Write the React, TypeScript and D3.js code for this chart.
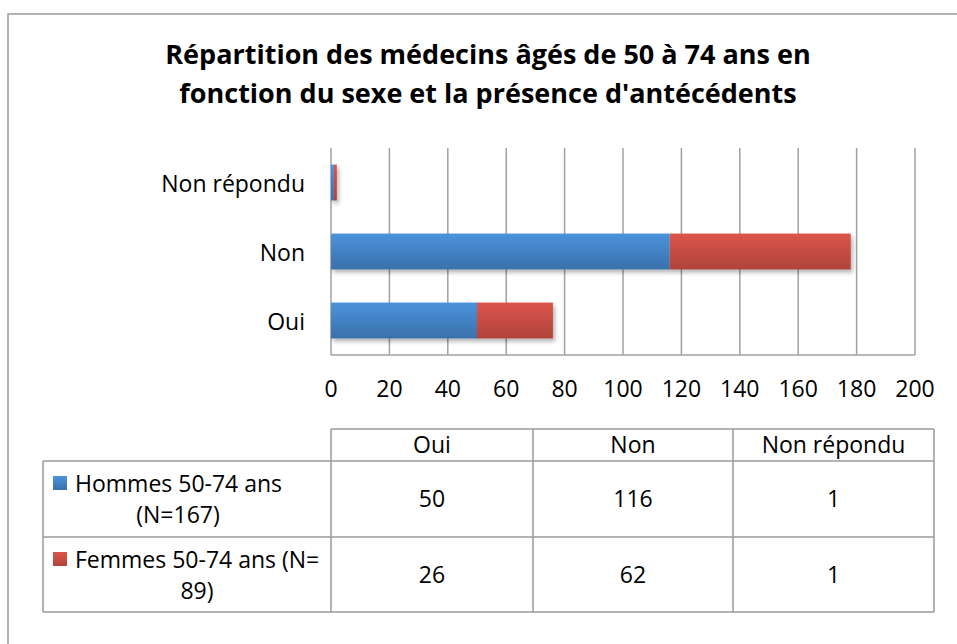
import { useEffect, useRef } from "react";
import * as d3 from "d3";

// chart data
const categories = ["Oui", "Non", "Non répondu"];
const hommes = [50, 116, 1];
const femmes = [26, 62, 1];
const xTicks = [0, 20, 40, 60, 80, 100, 120, 140, 160, 180, 200];
const titleLines = [
  "Répartition des médecins âgés de 50 à 74 ans en",
  "fonction du sexe et la présence d'antécédents",
];
const seriesNames = [
  ["Hommes 50-74 ans", "(N=167)"],
  ["Femmes 50-74 ans (N=", "89)"],
];

const FONT = "'Open Sans', 'Noto Sans', sans-serif";

export default function App() {
  const svgRef = useRef<SVGSVGElement | null>(null);

  useEffect(() => {
    if (!svgRef.current) return;
    const svg = d3.select(svgRef.current);
    svg.selectAll("*").remove();

    const W = 957;
    const H = 644;
    const plot = { left: 331, right: 915, top: 148, bottom: 355 };

    const defs = svg.append("defs");
    const grads = [
      { id: "gBlue", top: "#4b93dc", bottom: "#3a70ab" },
      { id: "gRed", top: "#dc554b", bottom: "#b0433b" },
    ];
    grads.forEach((g) => {
      const lg = defs
        .append("linearGradient")
        .attr("id", g.id)
        .attr("x1", 0)
        .attr("y1", 0)
        .attr("x2", 0)
        .attr("y2", 1);
      lg.append("stop").attr("offset", "0%").attr("stop-color", g.top);
      lg.append("stop").attr("offset", "100%").attr("stop-color", g.bottom);
    });
    const shadow = defs
      .append("filter")
      .attr("id", "shadow")
      .attr("x", "-10%")
      .attr("y", "-20%")
      .attr("width", "130%")
      .attr("height", "160%");
    shadow
      .append("feDropShadow")
      .attr("dx", 2)
      .attr("dy", 3)
      .attr("stdDeviation", 2)
      .attr("flood-color", "#000")
      .attr("flood-opacity", 0.3);

    svg.append("rect").attr("width", W).attr("height", H).attr("fill", "#fff");

    // outer frame
    svg
      .append("rect")
      .attr("x", 8)
      .attr("y", 14)
      .attr("width", W + 20)
      .attr("height", H + 20)
      .attr("fill", "none")
      .attr("stroke", "#9a9a9a")
      .attr("stroke-width", 1.5);

    // title
    svg
      .append("g")
      .selectAll("text")
      .data(titleLines)
      .enter()
      .append("text")
      .attr("x", 488)
      .attr("y", (_d, i) => 57 + i * 39)
      .attr("text-anchor", "middle")
      .attr("dominant-baseline", "middle")
      .attr("font-family", FONT)
      .attr("font-weight", "bold")
      .attr("font-size", 27)
      .attr("fill", "#000")
      .text((d) => d);

    const x = d3.scaleLinear().domain([0, 200]).range([plot.left, plot.right]);
    const y = d3
      .scaleBand<string>()
      .domain([...categories].reverse())
      .range([plot.top, plot.bottom])
      .paddingInner(0.48)
      .paddingOuter(0.24);

    // gridlines
    svg
      .append("g")
      .selectAll("line")
      .data(xTicks)
      .enter()
      .append("line")
      .attr("x1", (d) => x(d))
      .attr("x2", (d) => x(d))
      .attr("y1", plot.top)
      .attr("y2", plot.bottom)
      .attr("stroke", "#a0a0a0")
      .attr("stroke-width", 1.5);

    // axis line
    svg
      .append("line")
      .attr("x1", plot.left)
      .attr("x2", plot.right)
      .attr("y1", plot.bottom)
      .attr("y2", plot.bottom)
      .attr("stroke", "#a0a0a0")
      .attr("stroke-width", 1.5);

    // bars
    const stack = categories.map((c, i) => ({ c, h: hommes[i], f: femmes[i] }));
    const bars = svg.append("g").attr("filter", "url(#shadow)");
    bars
      .selectAll("rect.h")
      .data(stack)
      .enter()
      .append("rect")
      .attr("class", "h")
      .attr("x", x(0))
      .attr("y", (d) => y(d.c)!)
      .attr("width", (d) => x(d.h) - x(0))
      .attr("height", y.bandwidth())
      .attr("fill", "url(#gBlue)");
    bars
      .selectAll("rect.f")
      .data(stack)
      .enter()
      .append("rect")
      .attr("class", "f")
      .attr("x", (d) => x(d.h))
      .attr("y", (d) => y(d.c)!)
      .attr("width", (d) => x(d.h + d.f) - x(d.h))
      .attr("height", y.bandwidth())
      .attr("fill", "url(#gRed)");

    // category labels
    svg
      .append("g")
      .selectAll("text")
      .data(categories)
      .enter()
      .append("text")
      .attr("x", 305)
      .attr("y", (d) => y(d)! + y.bandwidth() / 2 + 3)
      .attr("text-anchor", "end")
      .attr("dominant-baseline", "middle")
      .attr("font-family", FONT)
      .attr("font-size", 23)
      .attr("fill", "#000")
      .text((d) => d);

    // tick labels
    svg
      .append("g")
      .selectAll("text")
      .data(xTicks)
      .enter()
      .append("text")
      .attr("x", (d) => x(d))
      .attr("y", 391)
      .attr("text-anchor", "middle")
      .attr("dominant-baseline", "middle")
      .attr("font-family", FONT)
      .attr("font-size", 23)
      .attr("fill", "#000")
      .text((d) => d);

    // data table
    const colX = [331, 533, 733, 934];
    const rowY = [429, 461, 537, 612];
    const tableLeft = 43;
    const tbl = svg.append("g").attr("stroke", "#9a9a9a").attr("stroke-width", 1.5);
    tbl.append("line").attr("x1", colX[0]).attr("x2", colX[3]).attr("y1", rowY[0]).attr("y2", rowY[0]);
    rowY.slice(1).forEach((ry) =>
      tbl.append("line").attr("x1", tableLeft).attr("x2", colX[3]).attr("y1", ry).attr("y2", ry)
    );
    colX.forEach((cx) =>
      tbl.append("line").attr("x1", cx).attr("x2", cx).attr("y1", rowY[0]).attr("y2", rowY[3])
    );
    tbl.append("line").attr("x1", tableLeft).attr("x2", tableLeft).attr("y1", rowY[1]).attr("y2", rowY[3]);

    const txt = svg
      .append("g")
      .attr("font-family", FONT)
      .attr("font-size", 23)
      .attr("fill", "#000")
      .attr("text-anchor", "middle")
      .attr("dominant-baseline", "middle");

    categories.forEach((c, i) => {
      const cx = (colX[i] + colX[i + 1]) / 2;
      txt.append("text").attr("x", cx).attr("y", (rowY[0] + rowY[1]) / 2 + 2).text(c);
      txt.append("text").attr("x", cx).attr("y", (rowY[1] + rowY[2]) / 2 + 2).text(hommes[i]);
      txt.append("text").attr("x", cx).attr("y", (rowY[2] + rowY[3]) / 2 + 2).text(femmes[i]);
    });

    // series labels with legend keys
    const keyFill = ["url(#gBlue)", "url(#gRed)"];
    const line2X = [178, 197];
    seriesNames.forEach((lines, i) => {
      const top = rowY[i + 1];
      svg
        .append("rect")
        .attr("x", 53)
        .attr("y", top + 15)
        .attr("width", 14)
        .attr("height", 14)
        .attr("fill", keyFill[i]);
      txt
        .append("text")
        .attr("x", 75)
        .attr("y", top + 25)
        .attr("text-anchor", "start")
        .text(lines[0]);
      txt
        .append("text")
        .attr("x", line2X[i])
        .attr("y", top + 56)
        .text(lines[1]);
    });
  }, []);

  return (
    <svg
      ref={svgRef}
      width={957}
      height={644}
      style={{ position: "absolute", left: 0, top: 0 }}
    ></svg>
  );
}
